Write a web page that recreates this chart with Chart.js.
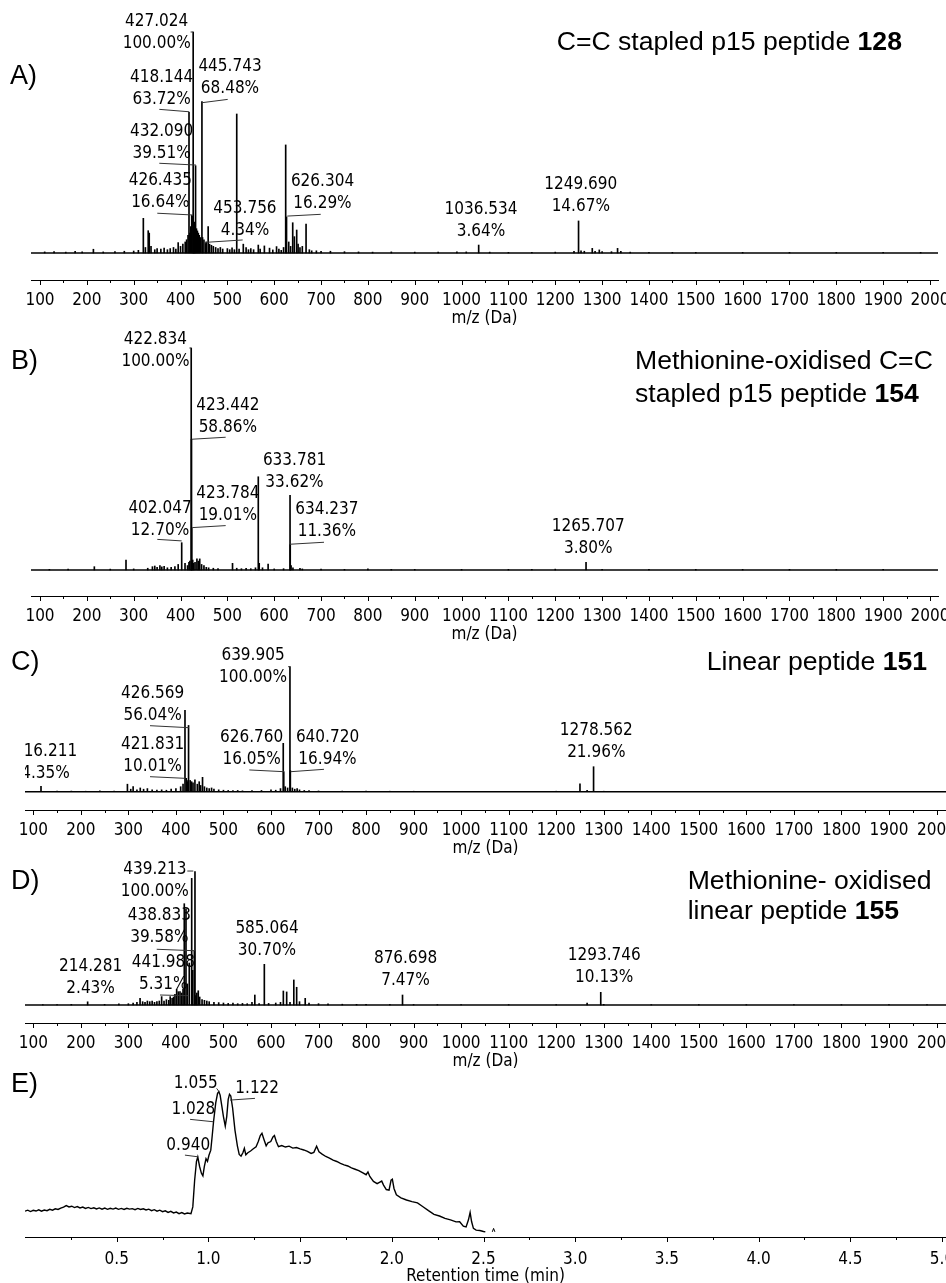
<!DOCTYPE html>
<html>
<head>
<meta charset="utf-8">
<title>LC-MS of stapled and linear p15 peptides</title>
<script src="https://cdn.jsdelivr.net/npm/chart.js@4.4.1/dist/chart.umd.min.js"></script>
<style>
  html, body { margin: 0; padding: 0; background: #fff; }
  body { width: 946px; height: 1283px; overflow: hidden; position: relative; }
  canvas { position: absolute; left: 0; }
</style>
</head>
<body>
<canvas id="chartA"></canvas>
<canvas id="chartB"></canvas>
<canvas id="chartC"></canvas>
<canvas id="chartD"></canvas>
<canvas id="chartE"></canvas>
<script>
// axis ticks
var mzTicks = [100, 200, 300, 400, 500, 600, 700, 800, 900, 1000,
  1100, 1200, 1300, 1400, 1500, 1600, 1700, 1800, 1900, 2000];
var mzMinor = [150, 250, 350, 450, 550, 650, 750, 850, 950, 1050,
  1150, 1250, 1350, 1450, 1550, 1650, 1750, 1850, 1950];
var rtTicks = [0.5, 1.0, 1.5, 2.0, 2.5, 3.0, 3.5, 4.0, 4.5, 5.0];
var rtMinor = [0.25, 0.75, 1.25, 1.75, 2.25, 2.75, 3.25, 3.75, 4.25, 4.75];

// A) C=C stapled p15 peptide 128
var mzA = [110, 130, 155, 175, 190, 214, 235, 260, 280, 300,
  310, 320.6, 325, 331, 333.2, 337, 345, 350, 358, 365,
  372, 378, 385, 390, 395, 400, 405, 410, 413, 416,
  418.1, 420, 422, 423.9, 426.4, 427.0, 428, 429.5, 430.5, 432.1,
  434, 436, 438, 440, 442, 445.7, 447, 450, 453.8, 455,
  459, 462, 466, 470, 475, 480, 485, 490, 500, 505,
  510, 515, 520, 525, 534, 540, 545, 550, 556, 566,
  570, 579, 590, 597, 605, 610, 615, 620, 624.5, 626.3,
  631, 635, 639.5, 643, 648, 651, 655, 660, 668, 675,
  680, 690, 700, 720, 750, 780, 810, 850, 900, 950,
  990, 1010, 1036.5, 1060, 1100, 1150, 1200, 1240, 1249.7, 1255,
  1262, 1279, 1285, 1294, 1300, 1320, 1333, 1340, 1360, 1400,
  1450, 1500, 1600, 1700, 1800, 1900, 1980];
var intA = [0.5, 0.6, 0.4, 0.7, 0.5, 1.7, 0.5, 0.6, 0.8, 0.9,
  1.2, 15.7, 2.5, 10.1, 9.0, 3, 1.5, 2, 1.8, 2.2,
  1.5, 2, 2.5, 1.8, 4.7, 3, 4, 5, 6, 8,
  63.7, 9, 12, 17, 16.6, 100, 13, 14, 12, 39.5,
  11, 10, 9, 8, 7, 68.5, 7, 6, 4.3, 5,
  11.9, 4, 3.5, 3, 2.5, 2, 2.5, 1.8, 2, 1.5,
  2.3, 1.5, 62.9, 1.8, 4, 2.5, 1.5, 2, 1.5, 3.6,
  1.8, 3.2, 2.2, 1.4, 2.9, 1.8, 1.2, 2.5, 48.9, 16.3,
  5, 3, 13.7, 7.4, 10.4, 4, 2.5, 3, 13.1, 1.5,
  1, 1, 0.8, 0.8, 0.6, 0.5, 0.4, 0.5, 0.4, 0.4,
  0.5, 0.5, 3.6, 0.4, 0.3, 0.3, 0.4, 0.8, 14.5, 1,
  0.8, 2.1, 0.8, 1.4, 0.6, 0.6, 2.1, 0.8, 0.4, 0.3,
  0.3, 0.3, 0.3, 0.3, 0.3, 0.3, 0.3];
var tagTextA = [['427.024', '100.00%'], ['418.144', '63.72%'], ['445.743', '68.48%'],
  ['432.090', '39.51%'], ['426.435', '16.64%'], ['453.756', '4.34%'],
  ['626.304', '16.29%'], ['1036.534', '3.64%'], ['1249.690', '14.67%']];

// B) Methionine-oxidised C=C stapled p15 peptide 154
var mzB = [120, 160, 216, 250, 283.6, 300, 330, 340, 345, 350,
  356, 360, 365, 372, 380, 388, 395, 402.5, 409.6, 415,
  418, 420, 422.8, 423.4, 423.8, 426, 428, 431, 435, 438,
  441, 445, 450, 455, 460, 470, 480, 511, 520, 530,
  540, 550, 560, 566, 568, 575, 587, 600, 620, 633.8,
  634.2, 636, 640, 655, 660, 700, 750, 800, 850, 900,
  1000, 1100, 1150, 1200, 1265.7, 1300, 1400, 1500, 1600, 1700,
  1800, 1900];
var intB = [0.3, 0.4, 1.5, 0.4, 4.5, 0.5, 0.8, 1.5, 1.8, 1.2,
  2, 1.4, 1.7, 1, 1.2, 1.5, 2.5, 12.3, 3, 2,
  3.5, 4, 100, 58.9, 19, 4.5, 3, 3.5, 5, 4,
  5, 2.5, 2, 1.2, 1, 0.8, 0.6, 3, 0.8, 0.6,
  0.8, 0.6, 1, 42, 3, 1, 2.7, 0.5, 0.6, 33.6,
  11.4, 2, 1, 0.8, 0.5, 0.4, 0.3, 0.5, 0.3, 0.3,
  0.3, 0.3, 0.3, 0.4, 3.4, 0.3, 0.3, 0.3, 0.3, 0.3,
  0.3, 0.3];
var tagTextB = [['422.834', '100.00%'], ['423.442', '58.86%'], ['633.781', '33.62%'],
  ['423.784', '19.01%'], ['402.047', '12.70%'], ['634.237', '11.36%'], ['1265.707', '3.80%']];

// C) Linear peptide 151
var mzC = [116.2, 150, 180, 210, 240, 270, 298, 305, 310, 318,
  325, 332, 340, 350, 360, 370, 380, 390, 400, 410,
  415, 419.1, 421.8, 423, 425, 426.6, 430, 433, 436, 440,
  445, 449, 452, 456, 460, 465, 470, 475, 480, 490,
  500, 510, 520, 530, 540, 560, 580, 600, 610, 620,
  625.8, 626.8, 630, 635, 639.9, 640.7, 645, 650, 655, 660,
  670, 680, 700, 750, 800, 850, 900, 950, 1000, 1100,
  1200, 1250, 1265, 1278.6, 1300, 1400, 1500, 1600, 1700, 1800,
  1900, 1990];
var intC = [4.3, 0.4, 0.5, 0.4, 0.6, 0.5, 6, 2, 4, 1.5,
  3, 2, 2.5, 1.5, 1.2, 1.5, 1.2, 2, 2.5, 4,
  6, 65, 10.7, 9, 8, 53, 9, 8, 7, 9.4,
  6, 8, 5, 11.5, 4, 3, 2.5, 3, 2, 1.5,
  1.2, 1, 0.8, 1, 0.7, 0.8, 1, 1.5, 1.2, 2.5,
  38.7, 16, 4, 3, 100, 16.9, 3, 2, 2.5, 1.5,
  1, 0.8, 0.6, 0.5, 0.4, 0.4, 0.4, 0.3, 0.3, 0.3,
  0.4, 6.2, 1, 20, 0.4, 0.3, 0.3, 0.3, 0.3, 0.3,
  0.3, 0.3];
var tagTextC = [['639.905', '100.00%'], ['426.569', '56.04%'], ['421.831', '10.01%'],
  ['626.760', '16.05%'], ['640.720', '16.94%'], ['116.211', '4.35%'], ['1278.562', '21.96%']];

// D) Methionine-oxidised linear peptide 155
var mzD = [120, 150, 180, 214.3, 250, 280, 300, 310, 318, 324.6,
  330, 335, 340, 345, 350, 355, 360, 365, 370, 375,
  380, 385, 388, 392, 395, 398, 401.6, 405, 408.6, 412,
  415, 417.6, 421.2, 424, 428.1, 433.2, 435.3, 438.8, 440.1, 442,
  444, 447, 450, 455, 460, 465, 470, 480, 490, 500,
  510, 520, 530, 540, 550, 560, 566, 575, 586, 595,
  610, 620, 626, 633, 640, 648, 654, 660, 672, 680,
  700, 720, 750, 780, 800, 850, 876.7, 900, 950, 1000,
  1100, 1200, 1265, 1293.7, 1300, 1400, 1500, 1600, 1700, 1800,
  1900, 1980];
var intD = [0.3, 0.4, 0.5, 2.4, 0.5, 0.8, 1, 1.5, 2, 5,
  2.5, 2, 3, 2.5, 3, 2, 2.5, 3, 6.3, 3,
  4, 3.5, 6.3, 5, 6, 8, 11.8, 10, 10, 9,
  12, 76, 72, 15.8, 31.5, 95, 26, 40.7, 100, 7,
  9, 10.7, 6, 4, 3.5, 3, 2.5, 2, 1.8, 1.5,
  1.2, 1.5, 1, 1.2, 1, 2, 7.5, 1, 30.5, 1.2,
  1.5, 2, 10.5, 9.8, 2, 18.8, 13.3, 2.5, 5, 1.5,
  1, 0.8, 0.6, 0.5, 0.5, 0.4, 7.5, 0.4, 0.3, 0.3,
  0.3, 0.3, 1.5, 9.5, 0.5, 0.3, 0.3, 0.3, 0.3, 0.3,
  0.3, 0.3];
var tagTextD = [['439.213', '100.00%'], ['438.833', '39.58%'], ['441.988', '5.31%'],
  ['214.281', '2.43%'], ['585.064', '30.70%'], ['876.698', '7.47%'], ['1293.746', '10.13%']];

// E) chromatogram (retention time in min, signal in arbitrary units)
var rtE = [0.00, 0.015, 0.03, 0.045, 0.06, 0.075, 0.09, 0.105, 0.12, 0.135,
  0.15, 0.165, 0.18, 0.195, 0.21, 0.225, 0.24, 0.255, 0.27, 0.285,
  0.30, 0.315, 0.33, 0.345, 0.36, 0.375, 0.39, 0.405, 0.42, 0.435,
  0.45, 0.465, 0.48, 0.495, 0.51, 0.525, 0.54, 0.555, 0.57, 0.585,
  0.60, 0.615, 0.63, 0.645, 0.66, 0.675, 0.69, 0.705, 0.72, 0.735,
  0.75, 0.765, 0.78, 0.795, 0.81, 0.825, 0.84, 0.855, 0.87, 0.885,
  0.905, 0.915, 0.925, 0.935, 0.942, 0.952, 0.962, 0.970, 0.978, 0.987,
  0.995, 1.003, 1.013, 1.020, 1.028, 1.040, 1.050, 1.057, 1.064, 1.072,
  1.082, 1.092, 1.100, 1.108, 1.115, 1.122, 1.132, 1.145, 1.158, 1.168,
  1.178, 1.188, 1.196, 1.204, 1.215, 1.23, 1.245, 1.26, 1.272, 1.283,
  1.292, 1.302, 1.315, 1.325, 1.340, 1.352, 1.360, 1.370, 1.382, 1.40,
  1.42, 1.44, 1.46, 1.48, 1.50, 1.52, 1.54, 1.56, 1.575, 1.590,
  1.603, 1.62, 1.64, 1.66, 1.68, 1.70, 1.72, 1.74, 1.76, 1.78,
  1.80, 1.82, 1.84, 1.860, 1.870, 1.880, 1.900, 1.920, 1.935, 1.945,
  1.955, 1.970, 1.985, 1.996, 2.003, 2.012, 2.025, 2.05, 2.08, 2.11,
  2.14, 2.17, 2.20, 2.23, 2.26, 2.29, 2.32, 2.35, 2.37, 2.39,
  2.405, 2.418, 2.427, 2.435, 2.445, 2.46, 2.48, 2.50, 2.51];
var sigE = [15.0, 15.6, 14.8, 15.5, 15.1, 15.8, 15.0, 15.7, 15.3, 16.1,
  15.6, 16.4, 16.0, 16.8, 17.4, 18.3, 17.5, 17.9, 17.1, 17.7,
  16.9, 17.4, 16.6, 17.2, 16.5, 17.0, 16.3, 16.9, 16.2, 16.8,
  16.1, 16.7, 16.2, 16.8, 16.1, 16.6, 16.0, 16.7, 16.2, 16.5,
  15.9, 16.6, 16.0, 16.4, 15.7, 16.2, 15.3, 15.9, 15.0, 15.6,
  14.7, 15.2, 14.3, 14.9, 14.0, 14.5, 13.6, 14.2, 13.4, 13.9,
  13.5, 17.5, 33, 44, 46.5, 41, 37, 35.5, 41, 45.5,
  44, 47.5, 50.5, 58, 67, 78, 83.5, 84.5, 82.5, 77,
  70, 64.5, 70, 80, 83, 82, 75, 62, 53, 48,
  47, 49, 51.5, 47.8, 49, 50, 51.3, 52.5, 55.5, 59,
  60.3, 57, 53, 54.8, 55.5, 58.2, 59, 55.5, 52.5, 53.2,
  52.3, 52.8, 51.7, 52, 51.2, 50.6, 49.8, 48.6, 49.2, 52.8,
  49.5, 48.2, 46.8, 45.9, 44.7, 43.9, 42.8, 41.9, 41.3, 40.2,
  39.4, 38.6, 37.4, 36.2, 37.8, 35.2, 32.3, 31.0, 31.9, 32.5,
  30.2, 27.6, 27.2, 33, 33.6, 28.2, 24.5, 22.8, 21.5, 20.6,
  19.8, 17.6, 15.3, 13.2, 12.2, 10.8, 10.0, 8.8, 8.9, 6.3,
  5.9, 10, 14.3, 9, 5.0, 4.0, 3.8, 3.2, 3.0];
var rtBlip = [2.548, 2.555, 2.562];
var sigBlip = [3.0, 5.0, 3.0];
var tagTextE = ['1.055', '1.122', '1.028', '0.940'];

// ---- placement of peak tags (data units: x = m/z or min, y = % or signal) ----
var tagPlaceA = [
  { x: 349.1, y: 104.7, lead: [421.5, 100, 427.0, 100] },
  { x: 359.8, y: 79.5, lead: [354.7, 65.0, 418.7, 63.9] },
  { x: 505.6, y: 84.3, lead: [445.2, 68.0, 500.7, 69.5] },
  { x: 359.8, y: 54.9, lead: [354.7, 40.6, 433.0, 39.8] },
  { x: 356.8, y: 32.6, lead: [350.4, 18.0, 426.0, 17.2] },
  { x: 537.6, y: 20.2, lead: [452.3, 4.8, 532.7, 5.9] },
  { x: 703.1, y: 32.3, lead: [628.0, 16.7, 699.3, 17.5] },
  { x: 1041.5, y: 19.5 },
  { x: 1254.5, y: 30.8 }];
var tagPlaceB = [
  { x: 346.4, y: 103.6, lead: [419.0, 100, 422.8, 100] },
  { x: 500.9, y: 73.9, lead: [423.9, 58.9, 496.4, 59.8] },
  { x: 643.3, y: 49.1 },
  { x: 500.9, y: 34.5, lead: [425.1, 19.1, 496.4, 20.0] },
  { x: 356.2, y: 27.8, lead: [350.4, 13.8, 402.5, 13.1] },
  { x: 712.3, y: 27.3, lead: [633.7, 11.6, 706.3, 12.5] },
  { x: 1270.5, y: 19.5 }];
var tagPlaceC = [
  { x: 562.2, y: 108.6, lead: [636.0, 100, 639.9, 100] },
  { x: 351.0, y: 78.7, lead: [345.5, 52.8, 427.5, 51.2] },
  { x: 350.8, y: 37.4, lead: [345.5, 12.0, 419.1, 10.7] },
  { x: 559.4, y: 43.5, lead: [554.4, 17.4, 627.4, 16.0] },
  { x: 718.9, y: 43.5, lead: [641.5, 16.0, 711.5, 17.9] },
  { x: 125.7, y: 32.0 },
  { x: 1284.3, y: 48.8 }];
var tagPlaceD = [
  { x: 355.6, y: 101.8, lead: [424.0, 100.5, 436.6, 100.5] },
  { x: 365.1, y: 66.8, lead: [359.6, 41.8, 440.2, 40.7] },
  { x: 373.5, y: 32.0, lead: [366.5, 7.5, 426.1, 7.0] },
  { x: 220.5, y: 28.7 },
  { x: 591.6, y: 57.5 },
  { x: 883.0, y: 34.5 },
  { x: 1301.0, y: 36.8 }];
var tagPlaceE = [
  { x: 0.931, y: 89.3, lead: [1.045, 86.4, 1.058, 84.5] },
  { x: 1.266, y: 86.4, lead: [1.118, 79.6, 1.254, 80.6] },
  { x: 0.918, y: 74.2, lead: [0.900, 68.4, 1.027, 67.0] },
  { x: 0.890, y: 53.4, lead: [0.872, 47.6, 0.945, 46.6] }];

// ---- page layout (px) ----
var CANVAS_W = 990;
var AXIS_H = 49;
var NUM_FONT = "'DejaVu Sans Condensed', 'DejaVu Sans', sans-serif";
var TXT_FONT = "'Liberation Sans', Arial, sans-serif";

// top of canvas, pixel of 100 %, pixel of zero, pixel of axis line, plot left/right, pixels of two ticks
var boxA = { top: 0, full: 32, base: 253, axis: 280, left: 31, right: 938, t1: [100, 40], t2: [2000, 930] };
var boxB = { top: 322, full: 348, base: 570, axis: 596, left: 31, right: 938, t1: [100, 40], t2: [2000, 930] };
var boxC = { top: 641, full: 666.7, base: 791.7, axis: 810, left: 25, right: 946, t1: [100, 33.3], t2: [2000, 936.5] };
var boxD = { top: 857, full: 871.7, base: 1005, axis: 1023, left: 25, right: 946, t1: [100, 33.3], t2: [2000, 936.5] };
var boxE = { top: 1069, full: 1065, base: 1236.7, axis: 1236.7, left: 25, right: 946, t1: [0, 25], t2: [0.5, 116.7] };

var titleA = [{ x: 556.7, y: 42.5, segs: [['C=C stapled p15 peptide ', false], ['128', true]] }];
var titleB = [{ x: 635, y: 361.5, segs: [['Methionine-oxidised C=C', false]] },
  { x: 635, y: 395, segs: [['stapled p15 peptide ', false], ['154', true]] }];
var titleC = [{ x: 706.7, y: 663, segs: [['Linear peptide ', false], ['151', true]] }];
var titleD = [{ x: 687.7, y: 881.5, segs: [['Methionine- oxidised', false]] },
  { x: 687.7, y: 911.5, segs: [['linear peptide ', false], ['155', true]] }];
var titleE = [];

function xRange(b) {
  var k = (b.t2[1] - b.t1[1]) / (b.t2[0] - b.t1[0]);
  return { min: b.t1[0] - (b.t1[1] - b.left) / k, max: b.t2[0] + (b.right - b.t2[1]) / k };
}
function yRange(b) {
  var k = (b.base - b.full) / 100;
  return { min: -(b.axis - b.base) / k, max: (b.base - b.top) / k };
}

function decor(o) {
  return {
    id: 'decor',
    afterDraw: function (chart) {
      var ctx = chart.ctx, xs = chart.scales.x, ys = chart.scales.y, a = chart.chartArea;
      ctx.save();
      // tick marks
      ctx.strokeStyle = '#000';
      ctx.lineWidth = 1;
      ctx.beginPath();
      o.major.forEach(function (v) {
        var px = Math.round(xs.getPixelForValue(v)) + 0.5;
        ctx.moveTo(px, a.bottom); ctx.lineTo(px, a.bottom + 5);
      });
      o.minor.forEach(function (v) {
        if (v < xs.min || v > xs.max) return;
        var px = Math.round(xs.getPixelForValue(v)) + 0.5;
        ctx.moveTo(px, a.bottom); ctx.lineTo(px, a.bottom + 3);
      });
      ctx.stroke();

      // peak tags, clipped to the plot's left edge
      ctx.save();
      ctx.beginPath();
      ctx.rect(a.left, 0, chart.width - a.left, chart.height);
      ctx.clip();
      ctx.font = '17px ' + NUM_FONT;
      ctx.fillStyle = '#000';
      ctx.textAlign = 'center';
      ctx.textBaseline = 'middle';
      o.tags.forEach(function (lines, i) {
        var p = o.place[i];
        var x = xs.getPixelForValue(p.x), y = ys.getPixelForValue(p.y);
        [].concat(lines).forEach(function (s, j) { ctx.fillText(s, x, y + j * 21.8); });
        if (p.lead) {
          ctx.beginPath();
          ctx.moveTo(xs.getPixelForValue(p.lead[0]), ys.getPixelForValue(p.lead[1]));
          ctx.lineTo(xs.getPixelForValue(p.lead[2]), ys.getPixelForValue(p.lead[3]));
          ctx.strokeStyle = '#333';
          ctx.lineWidth = 1;
          ctx.stroke();
        }
      });
      ctx.restore();

      // panel letter and compound title
      ctx.fillStyle = '#000';
      ctx.textAlign = 'left';
      ctx.textBaseline = 'middle';
      ctx.font = '27px ' + TXT_FONT;
      ctx.fillText(o.letter[0], o.letter[1], o.letter[2] - o.box.top);
      o.title.forEach(function (ln) {
        var x = ln.x;
        ln.segs.forEach(function (sg) {
          ctx.font = (sg[1] ? 'bold ' : '') + '26.6px ' + TXT_FONT;
          ctx.fillText(sg[0], x, ln.y - o.box.top);
          x += ctx.measureText(sg[0]).width;
        });
      });
      ctx.restore();
    }
  };
}

function xAxis(b, range, ticks, fmt, title, pad, titlePad) {
  return {
    type: 'linear',
    min: range.min,
    max: range.max,
    offset: false,
    grid: { display: false },
    border: { display: true, color: '#000', width: 1 },
    afterBuildTicks: function (s) { s.ticks = ticks.map(function (v) { return { value: v }; }); },
    afterFit: function (s) { s.height = AXIS_H; },
    ticks: {
      autoSkip: false, minRotation: 0, maxRotation: 0, padding: pad, color: '#000',
      font: { family: NUM_FONT, size: 17 },
      callback: fmt
    },
    title: {
      display: true, text: title, color: '#000',
      font: { family: NUM_FONT, size: 17, lineHeight: 1 },
      padding: { top: 0, bottom: titlePad }
    }
  };
}

function setupCanvas(id, b) {
  var cv = document.getElementById(id);
  cv.width = CANVAS_W;
  cv.height = Math.round(b.axis - b.top + AXIS_H);
  cv.style.top = b.top + 'px';
  cv.style.width = CANVAS_W + 'px';
  cv.style.height = cv.height + 'px';
  return cv;
}

function spectrum(id, b, mz, inten, tags, place, letter, title) {
  var cv = setupCanvas(id, b);
  var xr = xRange(b), yr = yRange(b);
  return new Chart(cv.getContext('2d'), {
    type: 'bar',
    data: {
      datasets: [{
        type: 'bar',
        data: mz.map(function (m, i) { return { x: m, y: inten[i] }; }),
        backgroundColor: '#000',
        borderWidth: 0,
        barThickness: 1,
        order: 2
      }, {
        type: 'line',
        data: [{ x: xr.min, y: 0 }, { x: xr.max, y: 0 }],
        borderColor: '#000',
        borderWidth: 1.5,
        pointRadius: 0,
        order: 1
      }]
    },
    options: {
      responsive: false,
      animation: false,
      devicePixelRatio: 1,
      layout: { padding: { left: b.left, right: CANVAS_W - b.right, top: 0, bottom: 0 } },
      plugins: { legend: { display: false }, tooltip: { enabled: false } },
      scales: {
        x: xAxis(b, xr, mzTicks, function (v) { return String(v); }, 'm/z (Da)', 2, 1.5),
        y: { display: false, min: yr.min, max: yr.max }
      }
    },
    plugins: [decor({ box: b, major: mzTicks, minor: mzMinor, tags: tags, place: place, letter: letter, title: title })]
  });
}

spectrum('chartA', boxA, mzA, intA, tagTextA, tagPlaceA, ['A)', 10, 77], titleA);
spectrum('chartB', boxB, mzB, intB, tagTextB, tagPlaceB, ['B)', 11, 361.7], titleB);
spectrum('chartC', boxC, mzC, intC, tagTextC, tagPlaceC, ['C)', 11, 662.5], titleC);
spectrum('chartD', boxD, mzD, intD, tagTextD, tagPlaceD, ['D)', 11, 881.7], titleD);

// E) chromatogram
(function () {
  var b = boxE;
  var cv = setupCanvas('chartE', b);
  var xr = xRange(b), yr = yRange(b);
  new Chart(cv.getContext('2d'), {
    type: 'line',
    data: {
      datasets: [{
        data: rtE.map(function (t, i) { return { x: t, y: sigE[i] }; }),
        borderColor: '#000', borderWidth: 1.4, pointRadius: 0, tension: 0
      }, {
        data: rtBlip.map(function (t, i) { return { x: t, y: sigBlip[i] }; }),
        borderColor: '#000', borderWidth: 1, pointRadius: 0, tension: 0
      }]
    },
    options: {
      responsive: false,
      animation: false,
      devicePixelRatio: 1,
      layout: { padding: { left: b.left, right: CANVAS_W - b.right, top: 0, bottom: 0 } },
      plugins: { legend: { display: false }, tooltip: { enabled: false } },
      scales: {
        x: xAxis(b, xr, rtTicks, function (v) { return v.toFixed(1); }, 'Retention time (min)', 4, 0.5),
        y: { display: false, min: yr.min, max: yr.max }
      }
    },
    plugins: [decor({ box: b, major: rtTicks, minor: rtMinor, tags: tagTextE, place: tagPlaceE, letter: ['E)', 11, 1085], title: titleE })]
  });
})();
</script>
</body>
</html>
